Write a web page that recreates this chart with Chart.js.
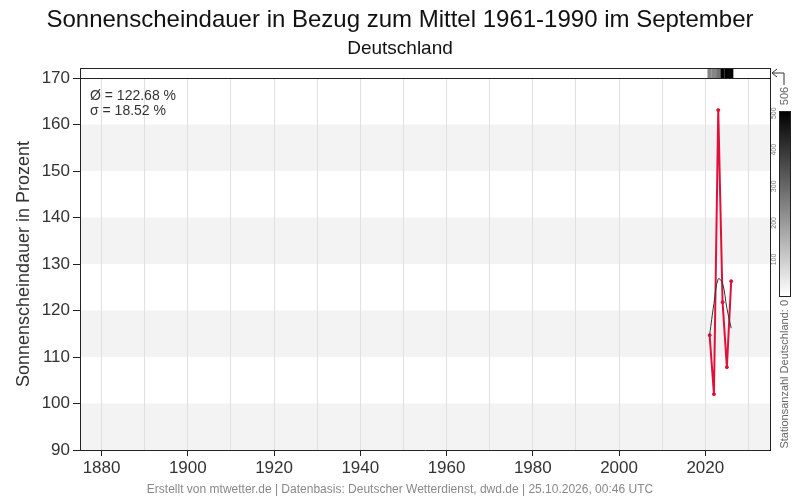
<!DOCTYPE html>
<html><head><meta charset="utf-8">
<script src="https://cdn.jsdelivr.net/npm/chart.js@4/dist/chart.umd.min.js"></script>
<style>
html,body{margin:0;padding:0;background:#fff;}
#wrap{position:relative;width:800px;height:500px;}
#footer{position:absolute;left:0;width:800px;top:481px;text-align:center;font:12px "Liberation Sans",Arial,sans-serif;color:#888;line-height:16px;}
</style></head><body>
<div id="wrap"><canvas id="c" width="800" height="500"></canvas><div id="footer">Erstellt von mtwetter.de | Datenbasis: Deutscher Wetterdienst, dwd.de | 25.10.2026, 00:46 UTC</div></div>
<script>
const years = [2021, 2022, 2023, 2024, 2025, 2026];
const sunshinePercent = [114.7, 102.0, 163.1, 121.8, 107.8, 126.3];
const smoothed = [114.7, 121.5, 126.8, 125.8, 120.5, 116.2];
const stationCounts = [240, 240, 280, 500, 506, 503];
const stationMax = 506;
const xTickYears = [1880, 1890, 1900, 1910, 1920, 1930, 1940, 1950, 1960, 1970, 1980, 1990, 2000, 2010, 2020, 2030];
const bandRanges = [[90, 100], [110, 120], [130, 140], [150, 160]];
const statsLines = ['Ø = 122.68 %', 'σ = 18.52 %'];
const colorbarTicks = [100, 200, 300, 400, 500];
const FONT = '"Liberation Sans", Arial, sans-serif';

const decor = {
  id: 'decor',
  beforeDraw(chart) {
    const {ctx, chartArea: a, scales: {y}} = chart;
    ctx.save();
    ctx.fillStyle = '#f3f3f3';
    for (const [lo, hi] of bandRanges) {
      const t = y.getPixelForValue(hi), b = y.getPixelForValue(lo);
      ctx.fillRect(a.left, t, a.right - a.left, b - t);
    }
    ctx.restore();
  },
  afterDraw(chart) {
    const {ctx, chartArea: a, scales: {x}} = chart;
    ctx.save();
    const top = a.top - 10;
    for (let i = 0; i < years.length; i++) {
      const x0 = x.getPixelForValue(years[i] - 0.5), x1 = x.getPixelForValue(years[i] + 0.5);
      const s = Math.round(255 * (1 - stationCounts[i] / stationMax));
      ctx.fillStyle = `rgb(${s},${s},${s})`;
      ctx.fillRect(x0, top, x1 - x0, 10);
    }
    ctx.strokeStyle = '#222';
    ctx.lineWidth = 1;
    ctx.beginPath();
    ctx.moveTo(a.left, top + 0.5); ctx.lineTo(a.right, top + 0.5);
    ctx.moveTo(a.left, a.top + 0.5); ctx.lineTo(a.right, a.top + 0.5);
    ctx.moveTo(a.left + 0.5, top); ctx.lineTo(a.left + 0.5, a.top);
    ctx.moveTo(a.right + 0.5, top); ctx.lineTo(a.right + 0.5, a.bottom);
    ctx.stroke();
    const my = top + 5;
    ctx.strokeStyle = '#333';
    ctx.beginPath();
    ctx.moveTo(a.right + 7, my - 4); ctx.lineTo(a.right + 2, my); ctx.lineTo(a.right + 7, my + 4);
    ctx.moveTo(a.right + 2, my); ctx.lineTo(a.right + 14, my); ctx.lineTo(a.right + 14, my + 12);
    ctx.stroke();
    ctx.fillStyle = '#333';
    ctx.font = '14px ' + FONT;
    ctx.textBaseline = 'middle';
    ctx.textAlign = 'left';
    statsLines.forEach((t, i) => ctx.fillText(t, a.left + 10, a.top + 18 + i * 15));
    const cbL = 779, cbW = 11, cbT = 111, cbB = 296;
    const g = ctx.createLinearGradient(0, cbT, 0, cbB);
    g.addColorStop(0, '#000'); g.addColorStop(1, '#fff');
    ctx.fillStyle = g;
    ctx.fillRect(cbL, cbT, cbW, cbB - cbT);
    ctx.strokeStyle = '#222';
    ctx.strokeRect(cbL + 0.5, cbT + 0.5, cbW, cbB - cbT);
    const cbY = v => cbB - (cbB - cbT) * v / stationMax;
    ctx.fillStyle = '#777';
    ctx.font = '7px ' + FONT;
    ctx.textAlign = 'center';
    for (const v of colorbarTicks) {
      ctx.save(); ctx.translate(774, cbY(v)); ctx.rotate(-Math.PI / 2);
      ctx.fillText(String(v), 0, 0); ctx.restore();
    }
    ctx.fillStyle = '#666';
    ctx.font = '11px ' + FONT;
    ctx.save(); ctx.translate(785, 96); ctx.rotate(-Math.PI / 2);
    ctx.fillText(String(stationMax), 0, 0); ctx.restore();
    ctx.save(); ctx.translate(785, 300); ctx.rotate(-Math.PI / 2);
    ctx.textAlign = 'right';
    ctx.fillText('Stationsanzahl Deutschland: 0', 0, 0); ctx.restore();
    ctx.restore();
  }
};

new Chart(document.getElementById('c'), {
  type: 'line',
  data: {
    datasets: [
      {data: years.map((yr, i) => ({x: yr, y: smoothed[i]})), borderColor: '#333', borderWidth: 1, pointRadius: 0, tension: 0.4, fill: false},
      {data: years.map((yr, i) => ({x: yr, y: sunshinePercent[i]})), borderColor: '#e0103c', backgroundColor: '#e0103c', borderWidth: 2, pointRadius: 1.5, pointBorderWidth: 1, pointBackgroundColor: '#e0103c', tension: 0, fill: false}
    ]
  },
  options: {
    responsive: false,
    animation: false,
    layout: {padding: {left: 0, right: 0, top: 0, bottom: 0}},
    plugins: {
      legend: {display: false},
      tooltip: {enabled: false},
      title: {display: true, text: 'Sonnenscheindauer in Bezug zum Mittel 1961-1990 im September', color: '#111', font: {size: 24, family: FONT, weight: 'normal'}, padding: {top: 6, bottom: 3}},
      subtitle: {display: true, text: 'Deutschland', color: '#111', font: {size: 19, family: FONT, weight: 'normal'}, padding: {top: 0, bottom: 17.4}}
    },
    scales: {
      x: {
        type: 'linear', min: 1875, max: 2035,
        afterBuildTicks: s => { s.ticks = xTickYears.map(v => ({value: v})); },
        afterFit: s => { s.height = 50; },
        ticks: {autoSkip: false, maxRotation: 0, color: '#333', font: {size: 17, family: FONT}, padding: 2,
          callback: v => (v % 20 === 0 ? String(v) : '')},
        grid: {color: '#e0e0e0', tickLength: 6, tickColor: c => (c.tick && c.tick.value % 20 === 0 ? '#222' : 'rgba(0,0,0,0)')},
        border: {color: '#222', width: 1}
      },
      y: {
        min: 90, max: 170,
        afterFit: s => { s.width = 80; },
        ticks: {stepSize: 10, color: '#333', font: {size: 17, family: FONT}, padding: 3},
        grid: {drawOnChartArea: false, color: '#222', tickLength: 7},
        border: {color: '#222', width: 1},
        title: {display: true, text: 'Sonnenscheindauer in Prozent', color: '#333', font: {size: 18, family: FONT}, padding: {top: 13, bottom: 0}}
      },
      yRight: {
        position: 'right', min: 90, max: 170,
        afterFit: s => { s.width = 30; },
        ticks: {display: false},
        grid: {display: false, drawOnChartArea: false},
        border: {display: false}
      }
    }
  },
  plugins: [decor]
});
</script>
</body></html>
